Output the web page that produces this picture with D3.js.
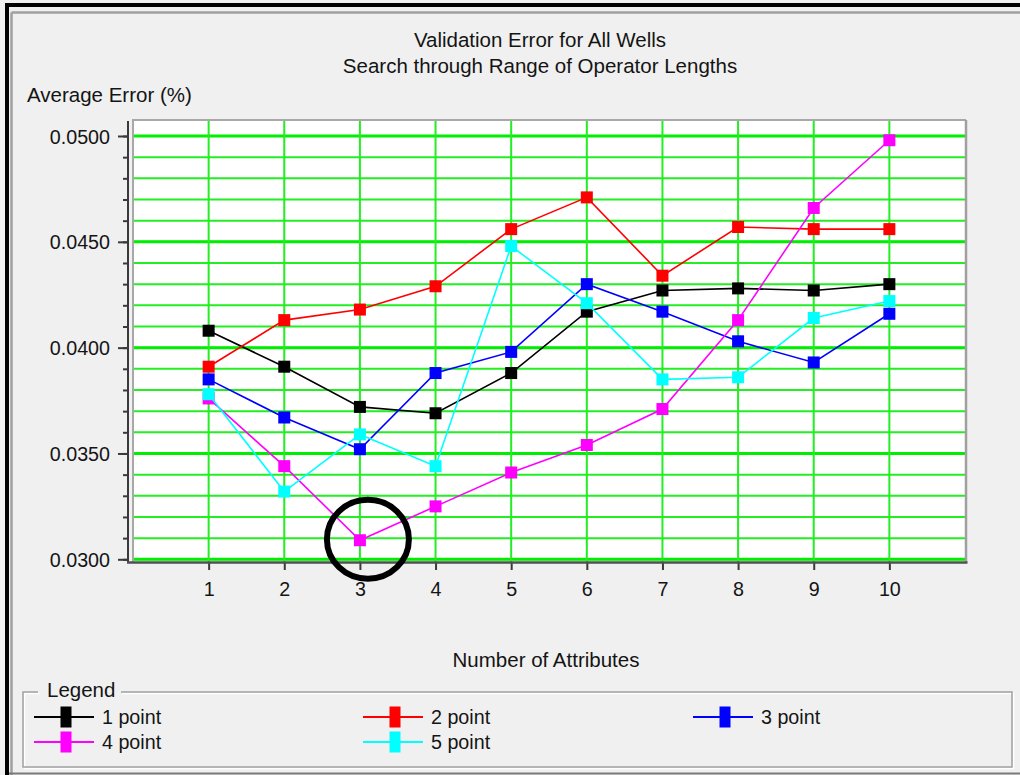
<!DOCTYPE html>
<html>
<head>
<meta charset="utf-8">
<script src="https://cdn.jsdelivr.net/npm/d3@7"></script>
<style>
  html, body { margin: 0; padding: 0; background: #f0f0f0; }
  svg { display: block; }
  text { font-family: "Liberation Sans", Arial, sans-serif; fill: #141414; }
</style>
</head>
<body>
<svg id="chart" width="1020" height="775"></svg>
<script>
// Number of attributes on the x axis
const attributes = [1, 2, 3, 4, 5, 6, 7, 8, 9, 10];

// Average validation error per operator length
const onePoint   = [0.0408, 0.0391, 0.0372, 0.0369, 0.0388, 0.0417, 0.0427, 0.0428, 0.0427, 0.0430];
const twoPoint   = [0.0391, 0.0413, 0.0418, 0.0429, 0.0456, 0.0471, 0.0434, 0.0457, 0.0456, 0.0456];
const threePoint = [0.0385, 0.0367, 0.0352, 0.0388, 0.0398, 0.0430, 0.0417, 0.0403, 0.0393, 0.0416];
const fourPoint  = [0.0376, 0.0344, 0.0309, 0.0325, 0.0341, 0.0354, 0.0371, 0.0413, 0.0466, 0.0498];
const fivePoint  = [0.0378, 0.0332, 0.0359, 0.0344, 0.0448, 0.0421, 0.0385, 0.0386, 0.0414, 0.0422];

const seriesNames  = ["1 point", "2 point", "3 point", "4 point", "5 point"];
const seriesColors = ["#000000", "#ff0000", "#0000ff", "#ff00ff", "#00ffff"];

// Axis ticks
const yMajorTicks = [0.0300, 0.0350, 0.0400, 0.0450, 0.0500];
const yMinorTicks = d3.range(30, 51).map(v => v / 1000);

// Highlighted minimum (4 point, 3 attributes)
const highlight = { x: 3, y: 0.0309 };

const series = [onePoint, twoPoint, threePoint, fourPoint, fivePoint].map((vals, i) => ({
  name: seriesNames[i],
  color: seriesColors[i],
  points: attributes.map((a, j) => ({ x: a, y: vals[j] }))
}));

const svg = d3.select("#chart");
const W = 1020, H = 775;
const labelSize = 20.5, numberSize = 19.7;

// Plot area
const plot = { left: 133, top: 120, right: 965, bottom: 562 };
const x = d3.scaleLinear().domain([0, 11]).range([plot.left, plot.right]);
const y = d3.scaleLinear().domain([0.029872, 0.050756]).range([plot.bottom, plot.top]);

// Window frame
svg.append("rect").attr("x", 5).attr("y", 3).attr("width", W - 5).attr("height", 4).attr("fill", "#000");
svg.append("rect").attr("x", 5).attr("y", 3).attr("width", 4).attr("height", H - 3).attr("fill", "#000");
svg.append("line").attr("x1", 11.5).attr("x2", W).attr("y1", 12.5).attr("y2", 12.5).attr("stroke", "#a0a0a0").attr("stroke-width", 2.5);
svg.append("line").attr("x1", 11.5).attr("x2", 11.5).attr("y1", 12.5).attr("y2", H).attr("stroke", "#a0a0a0").attr("stroke-width", 2.5);
svg.append("line").attr("x1", 9).attr("x2", W).attr("y1", 773.5).attr("y2", 773.5).attr("stroke", "#7a7a7a").attr("stroke-width", 2);

// Titles
svg.append("text").attr("x", 540).attr("y", 47).attr("text-anchor", "middle").attr("font-size", labelSize)
  .text("Validation Error for All Wells");
svg.append("text").attr("x", 540).attr("y", 73).attr("text-anchor", "middle").attr("font-size", labelSize)
  .text("Search through Range of Operator Lengths");
svg.append("text").attr("x", 27).attr("y", 102).attr("font-size", labelSize).text("Average Error (%)");

// Plot background
svg.append("rect").attr("x", plot.left).attr("y", plot.top)
  .attr("width", plot.right - plot.left).attr("height", plot.bottom - plot.top).attr("fill", "#fff");

// Grid
const grid = svg.append("g");
grid.selectAll("line.hminor").data(yMinorTicks).join("line")
  .attr("x1", plot.left).attr("x2", plot.right)
  .attr("y1", d => y(d)).attr("y2", d => y(d))
  .attr("stroke", "#22ee22").attr("stroke-width", 2);
grid.selectAll("line.hmajor").data(yMajorTicks).join("line")
  .attr("x1", plot.left).attr("x2", plot.right)
  .attr("y1", d => y(d)).attr("y2", d => y(d))
  .attr("stroke", "#00ee00").attr("stroke-width", 3);
grid.selectAll("line.v").data(attributes).join("line")
  .attr("x1", d => x(d)).attr("x2", d => x(d))
  .attr("y1", plot.top).attr("y2", plot.bottom)
  .attr("stroke", "#22ee22").attr("stroke-width", 2);

// Plot border
svg.append("path")
  .attr("d", `M${plot.left},${plot.bottom} V${plot.top} H${plot.right + 1}`)
  .attr("fill", "none").attr("stroke", "#a8a8a8").attr("stroke-width", 2);
svg.append("line").attr("x1", plot.right + 1).attr("x2", plot.right + 1)
  .attr("y1", plot.top).attr("y2", plot.bottom)
  .attr("stroke", "#a0a0a0").attr("stroke-width", 2.5);

// Y axis
const yMinorAxis = d3.axisLeft(y).tickValues(yMinorTicks).tickSize(5).tickFormat("");
const yMajorAxis = d3.axisLeft(y).tickValues(yMajorTicks).tickSize(10).tickPadding(8).tickFormat(d3.format(".4f"));
const gyMinor = svg.append("g").attr("transform", "translate(128,0)").call(yMinorAxis);
const gyMajor = svg.append("g").attr("transform", "translate(128,0)").call(yMajorAxis);
[gyMinor, gyMajor].forEach(g => {
  g.select(".domain").remove();
  g.selectAll(".tick line").attr("stroke", "#3a3a3a").attr("stroke-width", 2);
});
gyMajor.selectAll(".tick text").attr("font-size", numberSize).attr("fill", "#141414")
  .attr("font-family", "Liberation Sans, Arial, sans-serif").attr("dy", "0.36em");
svg.append("line").attr("x1", 128).attr("x2", 128).attr("y1", plot.top + 1).attr("y2", plot.bottom + 1)
  .attr("stroke", "#3a3a3a").attr("stroke-width", 2);

// X axis
const xAxis = d3.axisBottom(x).tickValues(attributes).tickSize(8).tickPadding(12).tickFormat(d3.format("d"));
const gx = svg.append("g").attr("transform", `translate(0,${plot.bottom})`).call(xAxis);
gx.select(".domain").remove();
gx.selectAll(".tick line").attr("stroke", "#3a3a3a").attr("stroke-width", 2);
gx.selectAll(".tick text").attr("font-size", numberSize).attr("fill", "#141414")
  .attr("font-family", "Liberation Sans, Arial, sans-serif");
svg.append("line").attr("x1", 127).attr("x2", plot.right + 2.5).attr("y1", plot.bottom + 0.5).attr("y2", plot.bottom + 0.5)
  .attr("stroke", "#505050").attr("stroke-width", 2.5);

svg.append("text").attr("x", 546).attr("y", 667).attr("text-anchor", "middle").attr("font-size", labelSize)
  .text("Number of Attributes");

// Series lines and markers
const line = d3.line().x(d => x(d.x)).y(d => y(d.y));
const sg = svg.append("g");
series.forEach(s => {
  const g = sg.append("g");
  g.append("path").datum(s.points).attr("d", line)
    .attr("fill", "none").attr("stroke", s.color).attr("stroke-width", 1.6);
  g.selectAll("rect").data(s.points).join("rect")
    .attr("x", d => x(d.x) - 6).attr("y", d => y(d.y) - 6)
    .attr("width", 12).attr("height", 12).attr("fill", s.color);
});

// Circle around the lowest error
svg.append("ellipse").attr("cx", x(highlight.x) + 8).attr("cy", y(highlight.y) - 1)
  .attr("rx", 41).attr("ry", 39.5)
  .attr("fill", "none").attr("stroke", "#000").attr("stroke-width", 6);

// Legend group box
const lg = svg.append("g");
const box = { left: 23, top: 692, right: 1012, bottom: 767 };
const etched = (d, c, off) => lg.append("path").attr("d", d).attr("fill", "none")
  .attr("stroke", c).attr("stroke-width", 1.5).attr("transform", `translate(${off},${off})`);
const boxPath = `M38,${box.top} H${box.left} V${box.bottom} H${box.right} V${box.top} H121`;
etched(boxPath, "#ffffff", 1.5);
etched(boxPath, "#a0a0a0", 0);
lg.append("text").attr("x", 47).attr("y", 697).attr("font-size", labelSize).text("Legend");

const legendCols = [34, 363, 693];
const legendRows = [717, 742];
series.forEach((s, i) => {
  const lx = legendCols[i % 3], ly = legendRows[Math.floor(i / 3)];
  const e = lg.append("g").attr("transform", `translate(${lx},${ly})`);
  e.append("line").attr("x1", 0).attr("x2", 60).attr("y1", 0).attr("y2", 0)
    .attr("stroke", s.color).attr("stroke-width", 2);
  e.append("rect").attr("x", 26.5).attr("y", -10.5).attr("width", 11).attr("height", 21).attr("fill", s.color);
  e.append("text").attr("x", 68).attr("y", 7).attr("font-size", 19.7).text(s.name);
});
</script>
</body>
</html>
